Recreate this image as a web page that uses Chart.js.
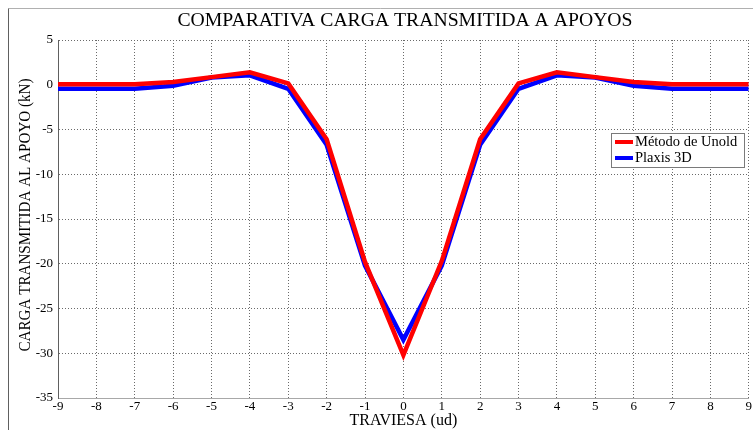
<!DOCTYPE html>
<html lang="es">
<head>
    <meta charset="UTF-8">
    <title>Comparativa carga transmitida a apoyos</title>
    <script src="https://cdn.jsdelivr.net/npm/chart.js"></script>
    <style>
        html, body { margin: 0; padding: 0; background: #fff; }
        #wrap { position: relative; width: 753px; height: 430px; }
    </style>
</head>
<body>
    <div id="wrap">
        <canvas id="cargaChart" width="753" height="430"></canvas>
    </div>

    <script>
        // Traviesas (ud)
        const traviesas = [-9, -8, -7, -6, -5, -4, -3, -2, -1, 0, 1, 2, 3, 4, 5, 6, 7, 8, 9];
        // Carga transmitida (kN)
        const unold  = [0.05, 0.05, 0.05, 0.3, 0.85, 1.4, 0.15, -6.1, -19.8, -30.2, -19.7, -6.1, 0.15, 1.4, 0.85, 0.3, 0.05, 0.05, 0.05];
        const plaxis = [-0.45, -0.45, -0.45, -0.1, 0.8, 1.05, -0.45, -6.7, -20.2, -28.5, -20.2, -6.7, -0.45, 1.05, 0.8, -0.1, -0.45, -0.45, -0.45];
        const seriesNames = ["Método de Unold", "Plaxis 3D"];
        const seriesColors = ["#ff0000", "#0000ff"];

        const serif = "'Liberation Serif', 'Times New Roman', serif";

        // window frame, titles and legend drawn on the canvas
        const decor = {
            id: 'decor',
            beforeDraw(chart) {
                const ctx = chart.ctx;
                ctx.save();
                ctx.fillStyle = '#fff';
                ctx.fillRect(0, 0, chart.width, chart.height);
                ctx.lineWidth = 1;
                ctx.strokeStyle = '#b0b0b0';
                ctx.beginPath();
                ctx.moveTo(8.5, 8.5);
                ctx.lineTo(chart.width, 8.5);
                ctx.stroke();
                ctx.strokeStyle = '#606060';
                ctx.beginPath();
                ctx.moveTo(8.5, 8.5);
                ctx.lineTo(8.5, chart.height);
                ctx.stroke();

                ctx.fillStyle = '#000';
                ctx.font = '19.7px ' + serif;
                ctx.textAlign = 'center';
                ctx.textBaseline = 'middle';
                ctx.fillText('COMPARATIVA CARGA TRANSMITIDA A APOYOS', 405, 21);

                // y axis title (slightly condensed like the original)
                ctx.translate(26, 215);
                ctx.rotate(-Math.PI / 2);
                ctx.scale(0.89, 1);
                ctx.font = '17px ' + serif;
                ctx.fillText('CARGA TRANSMITIDA AL APOYO (kN)', 0, 0);
                ctx.restore();
            },
            afterDatasetsDraw(chart) {
                const ctx = chart.ctx;
                ctx.save();
                ctx.fillStyle = '#fff';
                ctx.fillRect(611, 133, 133, 34);
                ctx.strokeStyle = '#7a7a7a';
                ctx.lineWidth = 1;
                ctx.strokeRect(611.5, 133.5, 133, 34);
                const rows = [142, 158];
                ctx.font = '14.5px ' + serif;
                ctx.textAlign = 'left';
                ctx.textBaseline = 'middle';
                rows.forEach((y, i) => {
                    ctx.strokeStyle = seriesColors[i];
                    ctx.lineWidth = 4;
                    ctx.beginPath();
                    ctx.moveTo(615, y);
                    ctx.lineTo(633, y);
                    ctx.stroke();
                    ctx.fillStyle = '#000';
                    ctx.fillText(seriesNames[i], 635, y);
                });
                ctx.restore();
            }
        };

        const ctx = document.getElementById('cargaChart').getContext('2d');
        const cargaChart = new Chart(ctx, {
            type: 'line',
            data: {
                datasets: [
                    {
                        label: seriesNames[0],
                        data: traviesas.map((x, i) => ({ x: x, y: unold[i] })),
                        borderColor: seriesColors[0],
                        borderWidth: 4.5,
                        pointRadius: 0,
                        tension: 0
                    },
                    {
                        label: seriesNames[1],
                        data: traviesas.map((x, i) => ({ x: x, y: plaxis[i] })),
                        borderColor: seriesColors[1],
                        borderWidth: 4.5,
                        pointRadius: 0,
                        tension: 0
                    }
                ]
            },
            options: {
                responsive: false,
                animation: false,
                devicePixelRatio: 1,
                layout: { padding: { top: 40, left: 0, right: 1, bottom: 0 } },
                plugins: {
                    legend: { display: false },
                    tooltip: { enabled: false }
                },
                scales: {
                    x: {
                        type: 'linear',
                        min: -9,
                        max: 9,
                        ticks: {
                            stepSize: 1,
                            color: '#000',
                            padding: 1,
                            maxRotation: 0,
                            font: { family: serif, size: 13 }
                        },
                        grid: { color: '#6a6a6a', lineWidth: 1, drawTicks: false },
                        // in v4 border.dash styles the grid lines
                        border: { color: '#a8a8a8', width: 1, dash: [1, 2] },
                        title: {
                            display: true,
                            text: 'TRAVIESA (ud)',
                            color: '#000',
                            padding: { top: 0, bottom: 0 },
                            font: { family: serif, size: 16 }
                        },
                        afterFit(scale) { scale.height = 32; }
                    },
                    y: {
                        min: -35,
                        max: 5,
                        ticks: {
                            stepSize: 5,
                            color: '#000',
                            padding: 5,
                            font: { family: serif, size: 13 }
                        },
                        grid: { color: '#6a6a6a', lineWidth: 1, drawTicks: false },
                        border: { color: '#606060', width: 1, dash: [1, 2] },
                        afterFit(scale) { scale.width = 58; }
                    }
                }
            },
            plugins: [decor]
        });
    </script>
</body>
</html>
